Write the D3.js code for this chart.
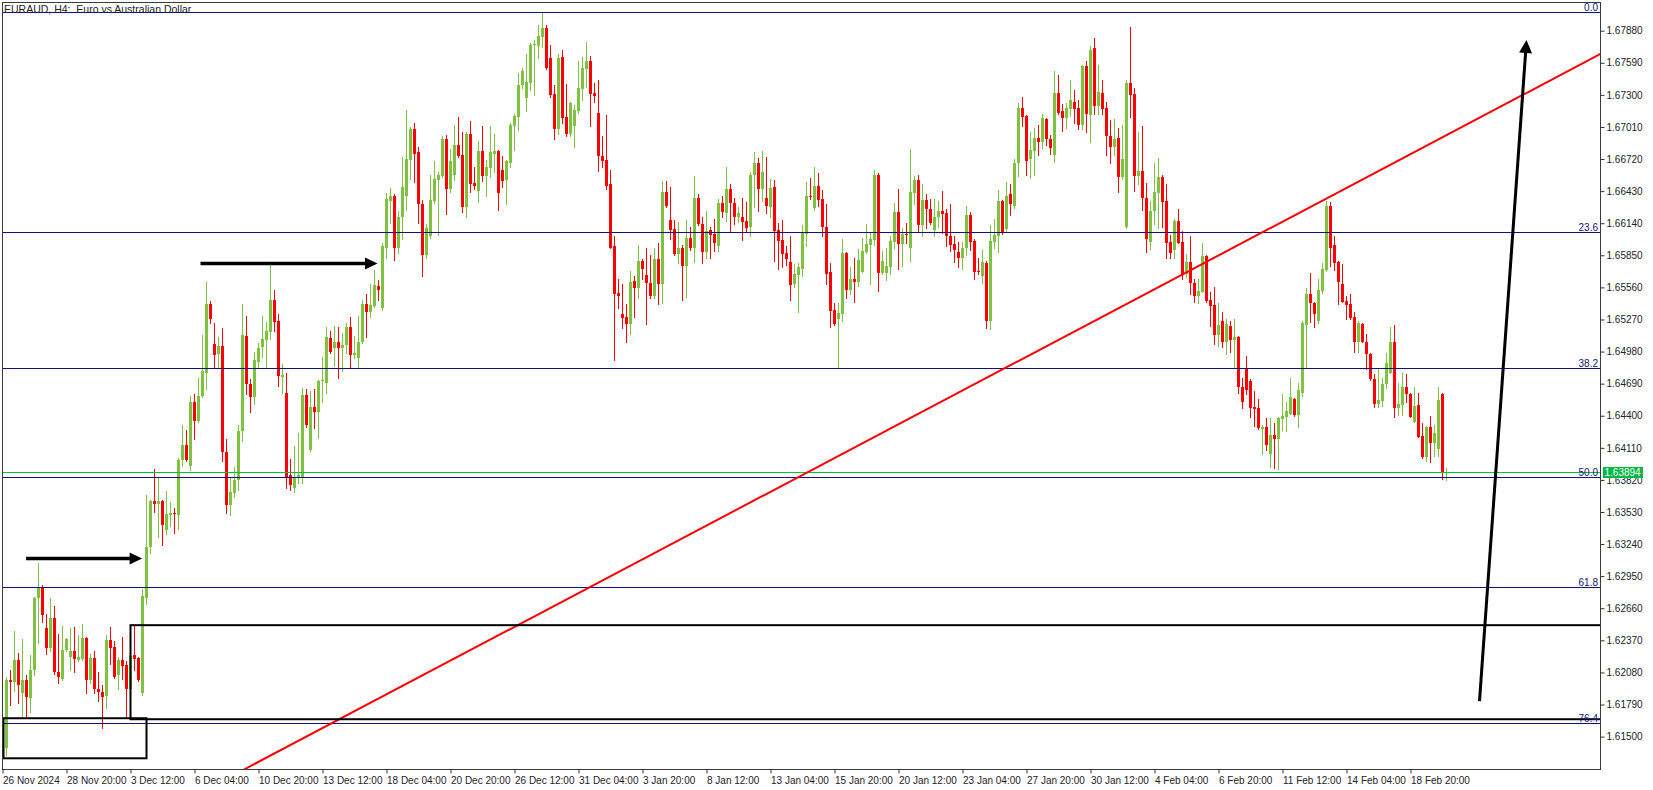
<!DOCTYPE html>
<html><head><meta charset="utf-8">
<script src="https://cdn.jsdelivr.net/npm/d3@7"></script>
<style>
html,body{margin:0;padding:0;background:#fff;}
svg{display:block;font-family:"Liberation Sans",Arial,sans-serif;}
</style></head><body>
<svg id="chart" width="1653" height="790"></svg>
<script>
const title = "EURAUD, H4:  Euro vs Australian Dollar";

const open = [
1.6161,1.6140,1.6201,1.6199,1.6219,1.6189,1.6201,1.6185,1.6210,1.6275,
1.6285,1.6248,1.6230,1.6257,1.6208,1.6202,1.6228,1.6222,1.6227,1.6219,
1.6220,1.6239,1.6201,1.6221,1.6193,1.6190,1.6187,1.6237,1.6231,1.6206,
1.6219,1.6215,1.6193,1.6224,1.6221,1.6189,1.6275,1.6321,1.6363,1.6360,
1.6363,1.6337,1.6350,1.6352,1.6350,1.6400,1.6414,1.6395,1.6452,1.6435,
1.6458,1.6479,1.6541,1.6505,1.6496,1.6503,1.6407,1.6359,1.6370,1.6382,
1.6426,1.6512,1.6469,1.6457,1.6489,1.6502,1.6508,1.6516,1.6545,1.6526,
1.6475,1.6461,1.6386,1.6375,1.6384,1.6385,1.6459,1.6409,1.6448,1.6443,
1.6471,1.6470,1.6510,1.6501,1.6507,1.6501,1.6504,1.6520,1.6495,1.6492,
1.6507,1.6541,1.6534,1.6539,1.6557,1.6537,1.6592,1.6634,1.6639,1.6592,
1.6620,1.6639,1.6671,1.6699,1.6678,1.6631,1.6585,1.6602,1.6634,1.6653,
1.6657,1.6690,1.6645,1.6658,1.6685,1.6676,1.6629,1.6695,1.6650,1.6643,
1.6679,1.6657,1.6664,1.6677,1.6679,1.6662,1.6653,1.6668,1.6702,1.6710,
1.6739,1.6727,1.6741,1.6775,1.6774,1.6782,1.6790,1.6763,1.6731,1.6699,
1.6764,1.6710,1.6695,1.6702,1.6715,1.6735,1.6753,1.6761,1.6732,1.6714,
1.6675,1.6671,1.6649,1.6593,1.6551,1.6532,1.6529,1.6523,1.6562,1.6555,
1.6580,1.6567,1.6560,1.6548,1.6582,1.6559,1.6642,1.6617,1.6609,1.6586,
1.6592,1.6575,1.6601,1.6592,1.6637,1.6613,1.6588,1.6608,1.6604,1.6593,
1.6632,1.6623,1.6645,1.6632,1.6620,1.6620,1.6616,1.6611,1.6658,1.6668,
1.6645,1.6637,1.6629,1.6647,1.6608,1.6599,1.6587,1.6579,1.6559,1.6567,
1.6573,1.6604,1.6639,1.6628,1.6648,1.6636,1.6611,1.6570,1.6536,1.6527,
1.6532,1.6587,1.6554,1.6564,1.6561,1.6570,1.6588,1.6594,1.6599,1.6658,
1.6569,1.6569,1.6574,1.6597,1.6624,1.6595,1.6604,1.6592,1.6641,1.6653,
1.6612,1.6635,1.6627,1.6608,1.6620,1.6625,1.6623,1.6602,1.6595,1.6588,
1.6583,1.6592,1.6621,1.6598,1.6571,1.6566,1.6578,1.6526,1.6597,1.6602,
1.6634,1.6609,1.6640,1.6630,1.6668,1.6718,1.6711,1.6672,1.6679,1.6691,
1.6687,1.6708,1.6690,1.6676,1.6732,1.6715,1.6709,1.6717,1.6724,1.6718,
1.6703,1.6756,1.6712,1.6772,1.6720,1.6732,1.6718,1.6693,1.6683,1.6691,
1.6656,1.6611,1.6741,1.6731,1.6657,1.6661,1.6637,1.6597,1.6625,1.6641,
1.6656,1.6634,1.6597,1.6590,1.6616,1.6597,1.6568,1.6579,1.6560,1.6548,
1.6552,1.6584,1.6545,1.6540,1.6513,1.6526,1.6507,1.6521,1.6508,1.6511,
1.6466,1.6482,1.6471,1.6448,1.6447,1.6428,1.6430,1.6405,1.6423,1.6419,
1.6437,1.6439,1.6442,1.6455,1.6441,1.6461,1.6522,1.6550,1.6542,1.6526,
1.6553,1.6572,1.6630,1.6594,1.6579,1.6559,1.6544,1.6541,1.6529,1.6507,
1.6523,1.6507,1.6496,1.6473,1.6451,1.6453,1.6469,1.6479,1.6507,1.6447,
1.6450,1.6466,1.6460,1.6434,1.6450,1.6422,1.6403,1.6430,1.6415,1.6410,
1.6460,1.6388];

const high = [
1.6163,1.6204,1.6210,1.6245,1.6226,1.6238,1.6206,1.6224,1.6276,1.6307,
1.6287,1.6261,1.6275,1.6268,1.6243,1.6250,1.6239,1.6248,1.6249,1.6242,
1.6252,1.6240,1.6225,1.6227,1.6208,1.6197,1.6242,1.6249,1.6236,1.6222,
1.6240,1.6218,1.6227,1.6250,1.6222,1.6283,1.6368,1.6364,1.6392,1.6384,
1.6364,1.6372,1.6362,1.6357,1.6402,1.6432,1.6427,1.6458,1.6460,1.6474,
1.6513,1.6561,1.6544,1.6524,1.6511,1.6519,1.6419,1.6385,1.6394,1.6432,
1.6541,1.6530,1.6473,1.6498,1.6506,1.6530,1.6525,1.6577,1.6554,1.6532,
1.6487,1.6479,1.6401,1.6413,1.6424,1.6465,1.6464,1.6462,1.6464,1.6472,
1.6493,1.6520,1.6517,1.6521,1.6520,1.6515,1.6524,1.6529,1.6512,1.6530,
1.6545,1.6550,1.6559,1.6572,1.6563,1.6596,1.6641,1.6646,1.6640,1.6625,
1.6674,1.6716,1.6701,1.6705,1.6683,1.6635,1.6613,1.6658,1.6670,1.6660,
1.6693,1.6694,1.6681,1.6703,1.6710,1.6696,1.6696,1.6706,1.6665,1.6688,
1.6702,1.6671,1.6702,1.6695,1.6680,1.6675,1.6671,1.6705,1.6713,1.6750,
1.6754,1.6767,1.6777,1.6780,1.6793,1.6805,1.6793,1.6775,1.6739,1.6767,
1.6771,1.6740,1.6724,1.6721,1.6761,1.6764,1.6778,1.6765,1.6741,1.6743,
1.6693,1.6712,1.6662,1.6602,1.6564,1.6559,1.6541,1.6571,1.6566,1.6594,
1.6582,1.6592,1.6585,1.6592,1.6596,1.6652,1.6652,1.6647,1.6617,1.6615,
1.6594,1.6617,1.6611,1.6657,1.6640,1.6620,1.6625,1.6611,1.6618,1.6636,
1.6639,1.6665,1.6649,1.6637,1.6629,1.6637,1.6633,1.6660,1.6678,1.6673,
1.6679,1.6674,1.6654,1.6653,1.6614,1.6617,1.6593,1.6602,1.6577,1.6578,
1.6612,1.6651,1.6655,1.6665,1.6659,1.6644,1.6631,1.6578,1.6542,1.6542,
1.6600,1.6588,1.6574,1.6583,1.6591,1.6601,1.6613,1.6605,1.6662,1.6659,
1.6589,1.6592,1.6602,1.6632,1.6645,1.6610,1.6614,1.6681,1.6657,1.6658,
1.6649,1.6640,1.6636,1.6636,1.6634,1.6643,1.6627,1.6631,1.6602,1.6597,
1.6597,1.6630,1.6624,1.6600,1.6583,1.6590,1.6580,1.6612,1.6618,1.6644,
1.6635,1.6651,1.6649,1.6672,1.6723,1.6728,1.6712,1.6696,1.6700,1.6703,
1.6713,1.6709,1.6694,1.6752,1.6748,1.6722,1.6723,1.6743,1.6734,1.6725,
1.6757,1.6761,1.6774,1.6781,1.6757,1.6743,1.6724,1.6707,1.6708,1.6700,
1.6703,1.6743,1.6791,1.6736,1.6696,1.6702,1.6650,1.6634,1.6668,1.6673,
1.6658,1.6649,1.6603,1.6618,1.6627,1.6607,1.6586,1.6602,1.6564,1.6564,
1.6596,1.6585,1.6552,1.6556,1.6542,1.6534,1.6527,1.6526,1.6527,1.6512,
1.6474,1.6494,1.6473,1.6462,1.6455,1.6432,1.6438,1.6438,1.6433,1.6439,
1.6460,1.6452,1.6474,1.6456,1.6470,1.6526,1.6555,1.6569,1.6543,1.6564,
1.6578,1.6634,1.6633,1.6602,1.6580,1.6577,1.6548,1.6550,1.6534,1.6526,
1.6524,1.6514,1.6497,1.6478,1.6482,1.6474,1.6497,1.6520,1.6522,1.6470,
1.6479,1.6478,1.6461,1.6466,1.6461,1.6433,1.6431,1.6440,1.6432,1.6466,
1.6461,1.6393];

const low = [
1.6138,1.6133,1.6179,1.6191,1.6180,1.6169,1.6169,1.6172,1.6206,1.6235,
1.6254,1.6225,1.6227,1.6207,1.6198,1.6201,1.6227,1.6210,1.6208,1.6218,
1.6219,1.6189,1.6198,1.6189,1.6182,1.6158,1.6176,1.6216,1.6203,1.6193,
1.6202,1.6168,1.6187,1.6210,1.6200,1.6188,1.6270,1.6316,1.6353,1.6330,
1.6323,1.6333,1.6340,1.6334,1.6338,1.6395,1.6399,1.6391,1.6419,1.6434,
1.6457,1.6464,1.6524,1.6484,1.6484,1.6399,1.6352,1.6350,1.6367,1.6373,
1.6417,1.6460,1.6443,1.6451,1.6484,1.6493,1.6484,1.6509,1.6517,1.6467,
1.6461,1.6375,1.6373,1.6371,1.6379,1.6379,1.6430,1.6408,1.6429,1.6420,
1.6452,1.6461,1.6497,1.6485,1.6474,1.6480,1.6497,1.6484,1.6492,1.6484,
1.6506,1.6511,1.6529,1.6538,1.6545,1.6536,1.6583,1.6614,1.6581,1.6587,
1.6600,1.6626,1.6654,1.6651,1.6614,1.6566,1.6583,1.6601,1.6632,1.6603,
1.6656,1.6622,1.6642,1.6653,1.6674,1.6624,1.6620,1.6642,1.6645,1.6633,
1.6652,1.6639,1.6656,1.6660,1.6626,1.6647,1.6631,1.6665,1.6680,1.6698,
1.6736,1.6715,1.6734,1.6730,1.6763,1.6773,1.6753,1.6728,1.6690,1.6695,
1.6705,1.6693,1.6693,1.6683,1.6714,1.6725,1.6737,1.6702,1.6724,1.6661,
1.6665,1.6645,1.6592,1.6490,1.6537,1.6519,1.6507,1.6514,1.6529,1.6546,
1.6564,1.6523,1.6546,1.6546,1.6541,1.6542,1.6629,1.6600,1.6585,1.6578,
1.6545,1.6547,1.6590,1.6579,1.6612,1.6578,1.6583,1.6583,1.6589,1.6589,
1.6620,1.6616,1.6606,1.6613,1.6615,1.6599,1.6607,1.6602,1.6629,1.6625,
1.6634,1.6623,1.6620,1.6580,1.6573,1.6574,1.6576,1.6545,1.6556,1.6534,
1.6566,1.6593,1.6636,1.6626,1.6630,1.6602,1.6559,1.6520,1.6522,1.6484,
1.6526,1.6546,1.6550,1.6543,1.6557,1.6570,1.6587,1.6559,1.6594,1.6553,
1.6568,1.6563,1.6568,1.6592,1.6573,1.6575,1.6596,1.6580,1.6631,1.6606,
1.6602,1.6610,1.6613,1.6602,1.6611,1.6605,1.6593,1.6589,1.6579,1.6574,
1.6573,1.6585,1.6590,1.6564,1.6568,1.6560,1.6519,1.6518,1.6592,1.6588,
1.6604,1.6607,1.6621,1.6628,1.6657,1.6702,1.6658,1.6655,1.6658,1.6676,
1.6682,1.6685,1.6677,1.6669,1.6713,1.6697,1.6700,1.6711,1.6705,1.6699,
1.6699,1.6696,1.6687,1.6713,1.6713,1.6713,1.6676,1.6668,1.6676,1.6642,
1.6654,1.6610,1.6710,1.6643,1.6649,1.6626,1.6588,1.6591,1.6613,1.6610,
1.6611,1.6583,1.6583,1.6583,1.6596,1.6564,1.6565,1.6550,1.6543,1.6542,
1.6552,1.6543,1.6521,1.6505,1.6503,1.6502,1.6496,1.6498,1.6483,1.6461,
1.6447,1.6460,1.6439,1.6431,1.6428,1.6405,1.6409,1.6394,1.6393,1.6392,
1.6427,1.6426,1.6442,1.6440,1.6430,1.6458,1.6484,1.6525,1.6520,1.6524,
1.6551,1.6571,1.6575,1.6572,1.6541,1.6543,1.6527,1.6527,1.6498,1.6498,
1.6507,1.6482,1.6472,1.6448,1.6448,1.6449,1.6465,1.6479,1.6439,1.6441,
1.6441,1.6452,1.6439,1.6434,1.6421,1.6402,1.6399,1.6398,1.6404,1.6404,
1.6383,1.6382];

const close = [
1.6140,1.6201,1.6199,1.6219,1.6197,1.6201,1.6186,1.6210,1.6275,1.6285,
1.6260,1.6230,1.6257,1.6208,1.6204,1.6228,1.6238,1.6227,1.6220,1.6222,
1.6239,1.6201,1.6221,1.6193,1.6190,1.6186,1.6237,1.6230,1.6204,1.6219,
1.6214,1.6193,1.6223,1.6220,1.6201,1.6277,1.6321,1.6363,1.6360,1.6363,
1.6341,1.6351,1.6352,1.6351,1.6400,1.6414,1.6400,1.6452,1.6435,1.6458,
1.6480,1.6541,1.6527,1.6495,1.6503,1.6407,1.6359,1.6371,1.6382,1.6426,
1.6513,1.6469,1.6457,1.6490,1.6501,1.6509,1.6517,1.6545,1.6525,1.6476,
1.6477,1.6385,1.6377,1.6385,1.6386,1.6459,1.6432,1.6448,1.6443,1.6471,
1.6472,1.6511,1.6498,1.6507,1.6501,1.6504,1.6520,1.6495,1.6497,1.6507,
1.6541,1.6534,1.6540,1.6558,1.6554,1.6593,1.6636,1.6639,1.6592,1.6620,
1.6647,1.6672,1.6699,1.6677,1.6631,1.6585,1.6610,1.6635,1.6654,1.6658,
1.6690,1.6645,1.6670,1.6685,1.6675,1.6629,1.6695,1.6649,1.6648,1.6679,
1.6657,1.6665,1.6678,1.6679,1.6641,1.6652,1.6670,1.6703,1.6711,1.6739,
1.6752,1.6742,1.6775,1.6776,1.6783,1.6790,1.6754,1.6730,1.6699,1.6763,
1.6709,1.6695,1.6723,1.6716,1.6736,1.6754,1.6761,1.6731,1.6729,1.6675,
1.6670,1.6648,1.6592,1.6550,1.6548,1.6528,1.6523,1.6561,1.6555,1.6580,
1.6573,1.6560,1.6548,1.6582,1.6559,1.6642,1.6630,1.6608,1.6586,1.6592,
1.6575,1.6601,1.6592,1.6637,1.6613,1.6588,1.6607,1.6603,1.6596,1.6632,
1.6624,1.6645,1.6632,1.6620,1.6623,1.6615,1.6610,1.6658,1.6668,1.6645,
1.6660,1.6630,1.6646,1.6607,1.6598,1.6586,1.6582,1.6558,1.6568,1.6574,
1.6605,1.6639,1.6638,1.6648,1.6635,1.6611,1.6568,1.6535,1.6523,1.6533,
1.6587,1.6554,1.6564,1.6561,1.6581,1.6589,1.6595,1.6600,1.6658,1.6569,
1.6580,1.6575,1.6598,1.6624,1.6595,1.6604,1.6603,1.6642,1.6653,1.6612,
1.6635,1.6627,1.6614,1.6620,1.6625,1.6622,1.6602,1.6594,1.6590,1.6583,
1.6592,1.6621,1.6597,1.6570,1.6570,1.6579,1.6526,1.6598,1.6603,1.6634,
1.6605,1.6639,1.6631,1.6668,1.6718,1.6710,1.6670,1.6680,1.6691,1.6687,
1.6709,1.6690,1.6682,1.6732,1.6714,1.6709,1.6718,1.6725,1.6717,1.6703,
1.6756,1.6713,1.6771,1.6720,1.6733,1.6717,1.6693,1.6683,1.6690,1.6656,
1.6672,1.6741,1.6730,1.6657,1.6661,1.6637,1.6600,1.6625,1.6642,1.6656,
1.6633,1.6596,1.6587,1.6616,1.6596,1.6568,1.6579,1.6560,1.6548,1.6553,
1.6584,1.6544,1.6539,1.6513,1.6522,1.6507,1.6523,1.6508,1.6511,1.6466,
1.6452,1.6463,1.6447,1.6446,1.6429,1.6430,1.6414,1.6423,1.6419,1.6438,
1.6440,1.6444,1.6457,1.6441,1.6463,1.6524,1.6550,1.6542,1.6532,1.6554,
1.6573,1.6630,1.6592,1.6578,1.6561,1.6543,1.6540,1.6528,1.6507,1.6524,
1.6507,1.6496,1.6473,1.6451,1.6454,1.6469,1.6488,1.6507,1.6447,1.6451,
1.6466,1.6460,1.6439,1.6449,1.6421,1.6403,1.6430,1.6415,1.6424,1.6454,
1.6388,1.63894];

const priceTicks = [1.67880,1.67590,1.67300,1.67010,1.66720,1.66430,1.66140,1.65850,1.65560,1.65270,
  1.64980,1.64690,1.64400,1.64110,1.63820,1.63530,1.63240,1.62950,1.62660,1.62370,1.62080,1.61790,1.61500];

const timeTickIndex = [0,16,32,48,64,80,96,112,128,144,160,176,192,208,224,240,256,272,288,304,320,336,352];
const timeLabels = ["26 Nov 2024","28 Nov 20:00","3 Dec 12:00","6 Dec 04:00","10 Dec 20:00","13 Dec 12:00",
  "18 Dec 04:00","20 Dec 20:00","26 Dec 12:00","31 Dec 04:00","3 Jan 20:00","8 Jan 12:00","13 Jan 04:00",
  "15 Jan 20:00","20 Jan 12:00","23 Jan 04:00","27 Jan 20:00","30 Jan 12:00","4 Feb 04:00","6 Feb 20:00",
  "11 Feb 12:00","14 Feb 04:00","18 Feb 20:00"];

const fibLabels = ["0.0","23.6","38.2","50.0","61.8","76.4"];
const fibPrices = [1.68049,1.66063,1.64835,1.63842,1.62849,1.61621];

const lastPrice = 1.63894;

// annotations in (bar index, price)
const trendlinePts = [[60.25,1.6120],[399.5,1.6767]];
const zoneBoxes = [
  {i0:0.25, i1:36,  pTop:1.61666, pBot:1.61304},
  {i0:32,   i1:400, pTop:1.62507, pBot:1.61657}
];
const arrowLines = [
  {from:[5.9,1.6311],  to:[34.9,1.6311]},
  {from:[49.5,1.65775],to:[93.75,1.65775]},
  {from:[369.25,1.6182],to:[381,1.67796]}
];

// ---------- drawing ----------
const svg = d3.select("#chart");
const x = d3.scaleLinear().domain([0,399.5]).range([2.5,1600.5]);
const y = d3.scaleLinear().domain([1.6788,1.6150]).range([30.7,736.6]);
const py = p => Math.round(y(p));

const bull = "#7fc241", bear = "#ff0000";
const fibColor = "#12127a";

svg.append("defs").append("clipPath").attr("id","plotclip")
  .append("rect").attr("x",3).attr("y",3).attr("width",1597).attr("height",766);

// title
svg.append("text").attr("x",4).attr("y",12.5)
  .attr("font-size",10.5).attr("fill","#222").attr("xml:space","preserve")
  .style("white-space","pre").text(title);

const plot = svg.append("g").attr("clip-path","url(#plotclip)");

const candles = d3.range(close.length).map(i=>({i,o:open[i],h:high[i],l:low[i],c:close[i]}));
const cg = plot.append("g");
cg.selectAll("line").data(candles).join("line")
  .attr("x1",d=>x(d.i)).attr("x2",d=>x(d.i))
  .attr("y1",d=>py(Math.max(d.h,d.o,d.c)))
  .attr("y2",d=>py(Math.min(d.l,d.o,d.c))+1)
  .attr("stroke",d=>d.c>=d.o?bull:bear).attr("stroke-width",1);
cg.selectAll("rect").data(candles).join("rect")
  .attr("x",d=>x(d.i)-1.5).attr("width",3)
  .attr("y",d=>py(Math.max(d.o,d.c)))
  .attr("height",d=>Math.max(1,py(Math.min(d.o,d.c))-py(Math.max(d.o,d.c))))
  .attr("fill",d=>d.c>=d.o?bull:bear);

// fib levels
const fg = plot.append("g");
fg.selectAll("line").data(fibPrices).join("line")
  .attr("x1",3).attr("x2",1600)
  .attr("y1",d=>py(d)+0.5).attr("y2",d=>py(d)+0.5)
  .attr("stroke",fibColor).attr("stroke-width",1);
svg.append("g").selectAll("text").data(fibPrices).join("text")
  .attr("x",1598).attr("y",d=>py(d)-1.5)
  .attr("text-anchor","end").attr("font-size",10).attr("fill",fibColor)
  .text((d,i)=>fibLabels[i]);

// last price line
plot.append("line").attr("x1",3).attr("x2",1600)
  .attr("y1",py(lastPrice)+0.5).attr("y2",py(lastPrice)+0.5)
  .attr("stroke","#00c040").attr("stroke-width",1);

// trendline
plot.append("line")
  .attr("x1",x(trendlinePts[0][0])).attr("y1",y(trendlinePts[0][1]))
  .attr("x2",x(trendlinePts[1][0])).attr("y2",y(trendlinePts[1][1]))
  .attr("stroke","#ff0000").attr("stroke-width",2);

// zone boxes
plot.append("g").selectAll("rect").data(zoneBoxes).join("rect")
  .attr("x",d=>x(d.i0)).attr("y",d=>y(d.pTop))
  .attr("width",d=>x(d.i1)-x(d.i0)).attr("height",d=>y(d.pBot)-y(d.pTop))
  .attr("fill","none").attr("stroke","#000").attr("stroke-width",2);

// arrows
const ag = plot.append("g");
arrowLines.forEach((a,k)=>{
  const x0=x(a.from[0]), y0=y(a.from[1]), x1=x(a.to[0]), y1=y(a.to[1]);
  const dx=x1-x0, dy=y1-y0, len=Math.hypot(dx,dy), ux=dx/len, uy=dy/len;
  const headL = k===2?13:12.5, headW = k===2?6.5:6;
  const bx=x1-ux*headL, by=y1-uy*headL;
  ag.append("line").attr("x1",x0).attr("y1",y0).attr("x2",bx+ux).attr("y2",by+uy)
    .attr("stroke","#000").attr("stroke-width",k===2?3:3.5);
  ag.append("polygon")
    .attr("points",[[x1,y1],[bx-uy*headW,by+ux*headW],[bx+uy*headW,by-ux*headW]].map(p=>p.join(",")).join(" "))
    .attr("fill","#000");
});

// frame
svg.append("rect").attr("x",2.5).attr("y",2.5).attr("width",1598).attr("height",767)
  .attr("fill","none").attr("stroke","#3a3a3a").attr("stroke-width",1);

// price axis
const ya = svg.append("g").attr("transform","translate(1600.5,0)")
  .call(d3.axisRight(y).tickValues(priceTicks).tickSize(4).tickPadding(2).tickFormat(d3.format(".5f")));
ya.select(".domain").remove();
ya.attr("font-size",10).attr("font-family","Liberation Sans, Arial, sans-serif");
ya.selectAll("line").attr("stroke","#333");
ya.selectAll("text").attr("fill","#222");

// time axis
const xa = svg.append("g").attr("transform","translate(0,769.5)")
  .call(d3.axisBottom(x).tickValues(timeTickIndex).tickSize(4).tickPadding(3)
    .tickFormat((d,i)=>timeLabels[i]));
xa.select(".domain").remove();
xa.attr("font-size",10).attr("font-family","Liberation Sans, Arial, sans-serif");
xa.selectAll("line").attr("stroke","#333");
xa.selectAll("text").attr("text-anchor","start").attr("dx",0).attr("fill","#222");

// last price label
const ly = py(lastPrice)+0.5;
svg.append("rect").attr("x",1603).attr("y",ly-5.5).attr("width",40).attr("height",11).attr("fill","#00b843");
svg.append("text").attr("x",1604.5).attr("y",ly+3.5).attr("font-size",10).attr("fill","#fff").text(d3.format(".5f")(lastPrice));
</script>
</body></html>
